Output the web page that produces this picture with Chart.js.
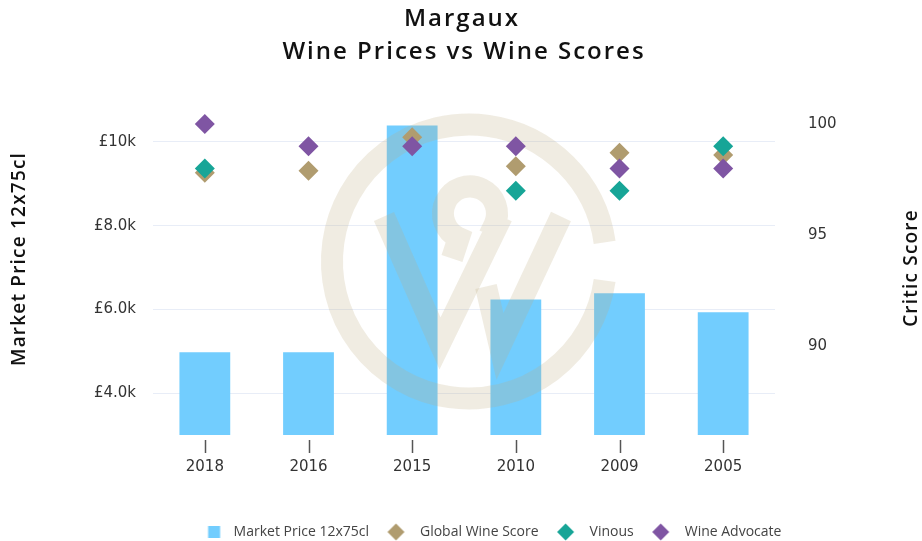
<!DOCTYPE html>
<html>
<head>
<meta charset="utf-8">
<script src="https://cdn.jsdelivr.net/npm/chart.js@4"></script>
<style>
  html, body { margin: 0; padding: 0; background: #ffffff; }
  #wrap { width: 922px; height: 541px; position: relative; }
</style>
</head>
<body>
<div id="wrap"><canvas id="c" width="922" height="541"></canvas></div>
<script>
// ---- data ----
const vintages = ['2018', '2016', '2015', '2010', '2009', '2005'];
const marketPrice = [4975, 4975, 10390, 6235, 6385, 5930];
const globalWineScore = [97.8, 97.9, 99.4, 98.1, 98.7, 98.6];
const vinous = [98, null, null, 97, 97, 99];
const wineAdvocate = [100, 99, 99, 99, 98, 98];
const priceTicks = [4000, 6000, 8000, 10000];
const priceTickLabels = ['£4.0k', '£6.0k', '£8.0k', '£10k'];
const scoreTicks = [90, 95, 100];
const titleLines = ['Margaux', 'Wine Prices vs Wine Scores'];
const leftAxisTitle = 'Market Price 12x75cl';
const rightAxisTitle = 'Critic Score';

const COLORS = ['#72CDFE', '#B09C6F', '#17A597', '#7F55A3'];
const TICK_FONT = { family: 'DejaVu Sans', size: 15 };
const HEAD_FAMILY = 'Open Sans';

// legend icons (square for bars, diamonds for scores), offset left inside the image
function makeIcon(kind, color, shift) {
  const c = document.createElement('canvas');
  const half = 9.5 + shift;
  c.width = Math.ceil(half * 2);
  c.height = 20;
  const g = c.getContext('2d');
  const cx = c.width / 2 - shift, cy = c.height / 2;
  g.fillStyle = color;
  if (kind === 'square') {
    g.fillRect(cx - 6, cy - 6, 12, 12);
  } else {
    g.beginPath();
    g.moveTo(cx, cy - 8.5);
    g.lineTo(cx + 8.5, cy);
    g.lineTo(cx, cy + 8.5);
    g.lineTo(cx - 8.5, cy);
    g.closePath();
    g.fill();
  }
  return c;
}
const legendIcons = [
  makeIcon('square', COLORS[0], 5.5),
  makeIcon('diamond', COLORS[1], 10),
  makeIcon('diamond', COLORS[2], 10),
  makeIcon('diamond', COLORS[3], 10)
];

// Decorative watermark, x tick marks, titles
const decorPlugin = {
  id: 'decor',
  afterDatasetDraw(chart, args) {
    if (args.index !== 0) return;
    const ca = chart.chartArea;
    const ctx = chart.ctx;
    const cx = ca.left + 0.508 * (ca.right - ca.left);
    const cy = ca.top + 0.482 * (ca.bottom - ca.top);
    ctx.save();
    ctx.strokeStyle = 'rgba(190,175,130,0.23)';
    ctx.lineWidth = 22;
    ctx.lineCap = 'butt';
    ctx.lineJoin = 'miter';
    const gap = 0.14;
    ctx.beginPath();
    ctx.arc(cx, cy, 137, gap, Math.PI * 2 - gap, false);
    ctx.stroke();
    ctx.beginPath();
    ctx.moveTo(cx - 85, cy - 45);
    ctx.lineTo(cx - 29, cy + 82);
    ctx.lineTo(cx + 28, cy - 35);
    ctx.arc(cx + 1, cy - 48, 27, 0.45, 2.0 - Math.PI * 2, true);
    ctx.lineTo(cx - 17, cy - 3);
    ctx.stroke();
    ctx.beginPath();
    ctx.moveTo(cx + 17, cy + 25);
    ctx.lineTo(cx + 31, cy + 85);
    ctx.lineTo(cx + 92, cy - 45);
    ctx.stroke();
    ctx.restore();
  },
  afterDraw(chart) {
    const ca = chart.chartArea;
    const ctx = chart.ctx;
    const xs = chart.scales.x;
    ctx.save();
    ctx.strokeStyle = '#555555';
    ctx.lineWidth = 1.5;
    for (let i = 0; i < vintages.length; i++) {
      const x = Math.round(xs.getPixelForTick(i)) + 0.5;
      ctx.beginPath();
      ctx.moveTo(x, ca.bottom + 5);
      ctx.lineTo(x, ca.bottom + 18);
      ctx.stroke();
    }
    ctx.fillStyle = '#111111';
    ctx.textAlign = 'center';
    ctx.textBaseline = 'middle';
    // chart title
    ctx.font = '600 24px "' + HEAD_FAMILY + '"';
    ctx.letterSpacing = '2px';
    ctx.fillText(titleLines[0], 462, 19);
    ctx.fillText(titleLines[1], 464, 52);
    // axis titles (both read bottom-to-top)
    ctx.font = '600 19px "' + HEAD_FAMILY + '"';
    ctx.letterSpacing = '1.2px';
    ctx.save();
    ctx.translate(20, 259);
    ctx.rotate(-Math.PI / 2);
    ctx.fillText(leftAxisTitle, 0, 0);
    ctx.restore();
    ctx.save();
    ctx.translate(912, 268);
    ctx.rotate(-Math.PI / 2);
    ctx.fillText(rightAxisTitle, 0, 0);
    ctx.restore();
    ctx.letterSpacing = '0px';
    ctx.restore();
  }
};

const diamond = (label, data, color, order) => ({
  type: 'scatter',
  label: label,
  data: data,
  yAxisID: 'y1',
  backgroundColor: color,
  borderColor: color,
  borderWidth: 0,
  pointStyle: 'rectRot',
  pointRadius: 10,
  pointHoverRadius: 10,
  showLine: false,
  order: order
});

new Chart(document.getElementById('c'), {
  data: {
    labels: vintages,
    datasets: [
      {
        type: 'bar',
        label: 'Market Price 12x75cl',
        data: marketPrice,
        yAxisID: 'y',
        backgroundColor: COLORS[0],
        borderWidth: 0,
        categoryPercentage: 1.0,
        barPercentage: 0.49,
        pointStyle: 'rect',
        order: 10
      },
      diamond('Global Wine Score', globalWineScore, COLORS[1], 3),
      diamond('Vinous', vinous, COLORS[2], 2),
      diamond('Wine Advocate', wineAdvocate, COLORS[3], 1)
    ]
  },
  options: {
    responsive: false,
    animation: false,
    events: [],
    layout: { padding: { top: 100, bottom: -8, left: 72, right: 0 } },
    plugins: {
      tooltip: { enabled: false },
      title: { display: false },
      legend: {
        position: 'bottom',
        labels: {
          usePointStyle: true,
          boxWidth: 14,
          boxHeight: 12,
          padding: 30,
          color: '#444444',
          font: { family: HEAD_FAMILY, size: 14 },
          sort: (a, b) => a.datasetIndex - b.datasetIndex,
          generateLabels(chart) {
            const items = Chart.defaults.plugins.legend.labels.generateLabels(chart);
            items.forEach(it => { it.pointStyle = legendIcons[it.datasetIndex]; it.rotation = 0; });
            return items;
          }
        }
      }
    },
    scales: {
      x: {
        type: 'category',
        offset: true,
        grid: { display: false, drawTicks: false },
        border: { display: false },
        ticks: { color: '#333333', font: TICK_FONT, padding: 23, maxRotation: 0 },
        afterFit(scale) { scale.height = 60; }
      },
      y: {
        type: 'linear',
        position: 'left',
        min: 3000,
        max: 11000,
        grid: { color: '#E8EDF7', lineWidth: 1, drawTicks: false },
        border: { display: false },
        ticks: {
          color: '#333333',
          font: TICK_FONT,
          padding: 17,
          callback: (v) => {
            const i = priceTicks.indexOf(v);
            return i >= 0 ? priceTickLabels[i] : '';
          }
        },
        afterBuildTicks(scale) { scale.ticks = priceTicks.map(v => ({ value: v })); },
        afterFit(scale) { scale.width = 81; }
      },
      y1: {
        type: 'linear',
        position: 'right',
        min: 86,
        max: 101.08,
        grid: { display: false, drawOnChartArea: false, drawTicks: false },
        border: { display: false },
        ticks: { color: '#333333', font: TICK_FONT, padding: 33 },
        afterBuildTicks(scale) { scale.ticks = scoreTicks.map(v => ({ value: v })); },
        afterFit(scale) { scale.width = 147; }
      }
    }
  },
  plugins: [decorPlugin]
});
</script>
</body>
</html>
